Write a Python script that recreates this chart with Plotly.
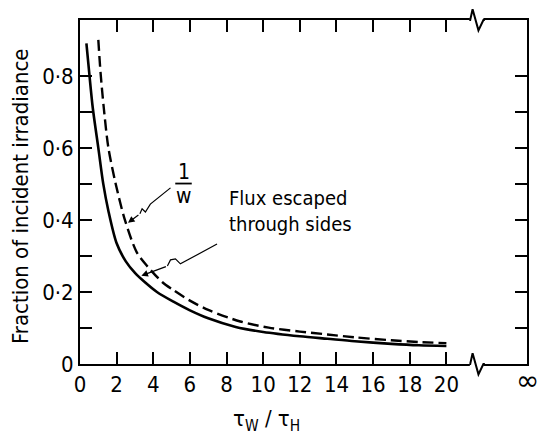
import plotly.graph_objects as go

# ---- data ----
solid_x = [0.35, 0.5, 0.7, 1.0, 1.27, 1.55, 2.0, 2.5, 3.0, 3.5, 4.2, 5.1, 6.0, 7.0, 8.5, 10.0, 12.0, 13.5, 15.0, 17.0, 18.5, 20.0]
solid_y = [0.89, 0.81, 0.71, 0.60, 0.50, 0.425, 0.335, 0.285, 0.253, 0.229, 0.200, 0.173, 0.149, 0.127, 0.103, 0.089, 0.077, 0.070, 0.063, 0.056, 0.052, 0.050]

dash_x = [1.0, 1.12, 1.3, 1.55, 1.95, 2.45, 3.1, 3.7, 4.5, 5.1, 6.0, 7.0, 8.75, 10.3, 12.0, 13.5, 15.0, 17.0, 18.5, 20.0]
dash_y = [0.90, 0.81, 0.71, 0.60, 0.50, 0.40, 0.31, 0.27, 0.227, 0.205, 0.176, 0.150, 0.118, 0.101, 0.090, 0.082, 0.074, 0.066, 0.061, 0.058]

x_tick_vals = [0, 2, 4, 6, 8, 10, 12, 14, 16, 18, 20]
x_tick_text = [str(v) for v in x_tick_vals]
y_tick_vals = [0, 0.1, 0.2, 0.3, 0.4, 0.5, 0.6, 0.7, 0.8]
y_tick_text = ["0", "", "0·2", "", "0·4", "", "0·6", "", "0·8"]

x_break = 21.3
x_inf = 24.4

# leader lines (annotation artwork)
lead_w = [(4.94, 0.489), (3.84, 0.444), (3.57, 0.422), (3.39, 0.431), (3.27, 0.417)]
tip_w = (2.62, 0.392)
lead_f = [(7.48, 0.333), (5.48, 0.278), (5.21, 0.292), (4.94, 0.289), (4.77, 0.272)]
tip_f = (3.35, 0.245)

FONT = "Liberation Sans Narrow, DejaVu Sans Condensed, Arial Narrow, Liberation Sans, sans-serif"

fig = go.Figure()
fig.add_trace(go.Scatter(x=solid_x, y=solid_y, mode="lines",
                         line=dict(color="black", width=2.6, shape="spline", smoothing=0.8),
                         showlegend=False, hoverinfo="skip"))
fig.add_trace(go.Scatter(x=dash_x, y=dash_y, mode="lines",
                         line=dict(color="black", width=2.4, dash="11px,5px", shape="spline", smoothing=0.8),
                         showlegend=False, hoverinfo="skip"))

shapes = []
# axis breaks: white-out then zigzag
for yb in (0, 1):
    shapes.append(dict(type="line", xref="x", yref="paper", x0=x_break - 0.02, x1=x_break + 0.72,
                       y0=yb, y1=yb, line=dict(color="white", width=5), layer="above"))
    p = (f"M {x_break - 0.05},{yb} L {x_break},{yb} L {x_break + 0.13},{yb + 0.031} "
         f"L {x_break + 0.45},{yb - 0.03} L {x_break + 0.72},{yb} L {x_break + 0.8},{yb}")
    shapes.append(dict(type="path", xref="x", yref="paper", path=p,
                       line=dict(color="black", width=2), layer="above"))

def path_of(pts):
    return "M " + " L ".join(f"{a},{b}" for a, b in pts)

for pts in (lead_w, lead_f):
    shapes.append(dict(type="path", xref="x", yref="y", path=path_of(pts),
                       line=dict(color="black", width=1.2)))
# fraction bar of 1/w
shapes.append(dict(type="line", xref="x", yref="y", x0=5.2, x1=6.1, y0=0.501, y1=0.501,
                   line=dict(color="black", width=1.8)))

annotations = []
for pts, tip in [(lead_w, tip_w), (lead_f, tip_f)]:
    annotations.append(dict(x=tip[0], y=tip[1], ax=pts[-1][0], ay=pts[-1][1], axref="x", ayref="y",
                            xref="x", yref="y", text="", showarrow=True, arrowhead=2,
                            arrowsize=1.1, arrowwidth=1.2, arrowcolor="black"))

annotations += [
    dict(x=5.65, y=0.533, xref="x", yref="y", text="1", showarrow=False,
         xanchor="center", yanchor="middle", font=dict(family=FONT, size=21, color="black")),
    dict(x=5.65, y=0.466, xref="x", yref="y", text="w", showarrow=False,
         xanchor="center", yanchor="middle", font=dict(family=FONT, size=21, color="black")),
    dict(x=8.0, y=0.426, xref="x", yref="y", text="Flux escaped<br>through sides", showarrow=False,
         xanchor="left", yanchor="middle", align="left", font=dict(family=FONT, size=20, color="black")),
    dict(x=-0.133, y=0.487, xref="paper", yref="paper", text="Fraction of incident irradiance",
         textangle=-90, showarrow=False, xanchor="center", yanchor="middle",
         font=dict(family=FONT, size=22, color="black")),
    dict(x=0.418, y=-0.163, xref="paper", yref="paper",
         text="τ<sub>W</sub> / τ<sub>H</sub>", showarrow=False, xanchor="center", yanchor="middle",
         font=dict(family=FONT, size=22, color="black")),
    dict(x=x_inf, y=-0.047, xref="x", yref="paper", text="∞", showarrow=False,
         xanchor="center", yanchor="middle",
         font=dict(family="DejaVu Sans, sans-serif", size=28, color="black")),
]

fig.update_layout(
    width=539, height=438,
    margin=dict(l=80, r=12, t=20, b=74, autoexpand=False),
    paper_bgcolor="white", plot_bgcolor="white",
    shapes=shapes, annotations=annotations,
    xaxis=dict(range=[0, 24.4], tickvals=x_tick_vals, ticktext=x_tick_text,
               ticks="inside", ticklen=12, tickwidth=2, tickcolor="black",
               showline=True, linewidth=2, linecolor="black", mirror="allticks",
               showgrid=False, zeroline=False, automargin=False,
               tickfont=dict(family=FONT, size=22, color="black")),
    yaxis=dict(range=[0, 0.955], tickvals=y_tick_vals, ticktext=y_tick_text,
               ticks="inside", ticklen=12, tickwidth=2, tickcolor="black",
               showline=True, linewidth=2, linecolor="black", mirror="allticks",
               showgrid=False, zeroline=False, automargin=False,
               tickfont=dict(family=FONT, size=22, color="black")),
)

fig.write_html("out.html", config={"displayModeBar": False},
               post_script="document.body.style.margin='0';document.body.style.overflow='hidden';")
